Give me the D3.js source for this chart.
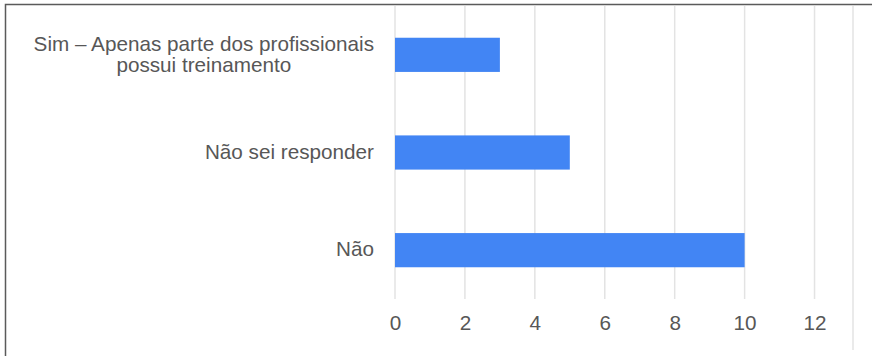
<!DOCTYPE html>
<html>
<head>
<meta charset="utf-8">
<script src="https://cdn.jsdelivr.net/npm/d3@7"></script>
<style>
  html, body { margin: 0; padding: 0; background: #fff; }
  svg { display: block; font-family: "Liberation Sans", Arial, sans-serif; }
</style>
</head>
<body>
<svg id="chart" width="872" height="356"></svg>
<script>
// Respostas por categoria
const categories = [
  ["Sim – Apenas parte dos profissionais", "possui treinamento"],
  ["Não sei responder"],
  ["Não"]
];
const values = [3, 5, 10];
const xTicks = [0, 2, 4, 6, 8, 10, 12];
const xMax = 13.1;

const W = 872, H = 356;
const plot = { left: 395, right: 853, top: 6, bottom: 299 };
const fontSize = 20.7;
const textColor = "#575757";

const svg = d3.select("#chart");

const x = d3.scaleLinear().domain([0, xMax]).range([plot.left, plot.right]);
const y = d3.scaleBand()
  .domain(d3.range(categories.length))
  .range([plot.top, plot.bottom])
  .paddingInner(0.65).paddingOuter(0.325);

// vertical gridlines
svg.append("g").selectAll("line")
  .data(xTicks).join("line")
  .attr("x1", d => x(d)).attr("x2", d => x(d))
  .attr("y1", plot.top).attr("y2", plot.bottom)
  .attr("stroke", "#e3e3e3").attr("stroke-width", 1.5);

// right edge of the chart area
svg.append("line")
  .attr("x1", x(xMax)).attr("x2", x(xMax))
  .attr("y1", plot.top).attr("y2", 350)
  .attr("stroke", "#e3e3e3").attr("stroke-width", 1.5);

// bars
svg.append("g").selectAll("rect")
  .data(values).join("rect")
  .attr("x", x(0))
  .attr("y", (d, i) => y(i))
  .attr("width", d => x(d) - x(0))
  .attr("height", y.bandwidth())
  .attr("fill", "#4285f4");

// x axis labels
const xAxis = d3.axisBottom(x).tickValues(xTicks).tickSize(0).tickPadding(0);
const gx = svg.append("g")
  .attr("transform", `translate(0,${plot.bottom + 24})`)
  .call(xAxis);
gx.select(".domain").remove();
gx.selectAll("text")
  .attr("font-size", fontSize)
  .attr("font-family", "'Liberation Sans', Arial, sans-serif")
  .attr("fill", textColor)
  .attr("dy", "0.35em");

// category labels (centred block, right edge at the axis gutter)
const labelRight = 374;
categories.forEach((lines, i) => {
  const cy = y(i) + y.bandwidth() / 2;
  const lh = 21;
  const t = svg.append("text")
    .attr("font-size", fontSize)
    .attr("fill", textColor)
    .attr("text-anchor", "middle");
  lines.forEach((s, k) => {
    t.append("tspan")
      .attr("x", 0)
      .attr("y", cy - 1 + (k - (lines.length - 1) / 2) * lh)
      .attr("dy", "0.35em")
      .text(s);
  });
  const bb = t.node().getBBox();
  t.attr("transform", `translate(${labelRight - bb.width / 2},0)`);
});

// frame: top and left edges
svg.append("path")
  .attr("d", `M5.5,${H} V4.5 H${W}`)
  .attr("fill", "none")
  .attr("stroke", "#5a5a5a").attr("stroke-width", 1.5);
</script>
</body>
</html>
